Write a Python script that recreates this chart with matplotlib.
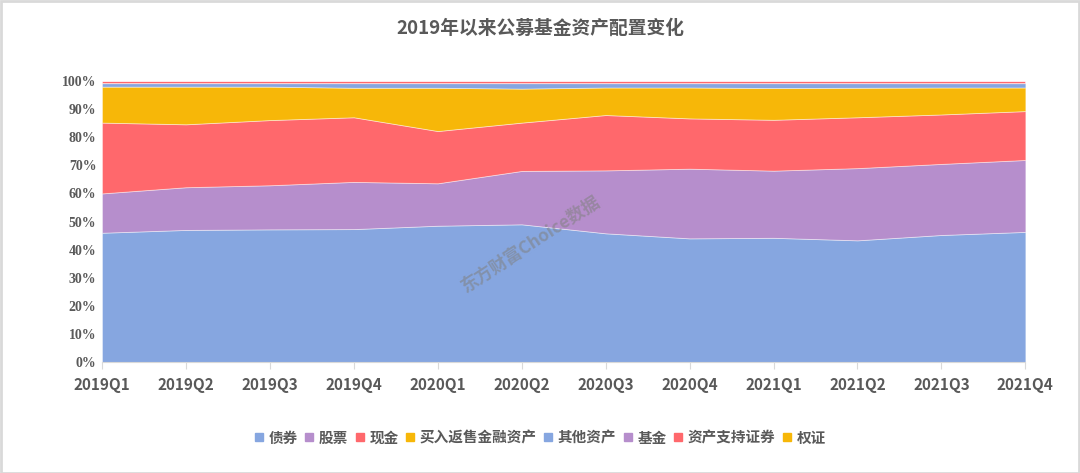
import numpy as np
import matplotlib.pyplot as plt
from matplotlib.lines import Line2D

plt.rcParams['font.family'] = ['Noto Sans CJK SC', 'DejaVu Sans']

quarters = ['2019Q1', '2019Q2', '2019Q3', '2019Q4', '2020Q1', '2020Q2',
            '2020Q3', '2020Q4', '2021Q1', '2021Q2', '2021Q3', '2021Q4']

# percentages
bond = [46.0, 47.0, 47.2, 47.3, 48.5, 49.0, 45.8, 44.0, 44.2, 43.3, 45.2, 46.3]
stock = [14.0, 15.2, 15.7, 16.8, 15.1, 19.0, 22.4, 24.8, 23.9, 25.7, 25.3, 25.6]
cash = [25.2, 22.4, 23.2, 23.0, 18.6, 17.2, 19.7, 17.9, 18.1, 18.1, 17.6, 17.4]
repo = [12.8, 13.4, 11.9, 10.5, 15.4, 12.1, 9.8, 11.0, 11.3, 10.5, 9.6, 8.4]
other = [1.2, 1.2, 1.2, 1.6, 1.6, 1.9, 1.5, 1.5, 1.7, 1.6, 1.5, 1.5]
fund = [0.2, 0.2, 0.2, 0.2, 0.2, 0.2, 0.2, 0.2, 0.2, 0.2, 0.2, 0.2]
abs_sec = [0.6, 0.6, 0.6, 0.6, 0.6, 0.6, 0.6, 0.6, 0.6, 0.6, 0.6, 0.6]
warrant = [0.0, 0.0, 0.0, 0.0, 0.0, 0.0, 0.0, 0.0, 0.0, 0.0, 0.0, 0.0]

names = ['债券', '股票', '现金', '买入返售金融资产', '其他资产', '基金', '资产支持证券', '权证']
blue, purple, red, yellow = '#86A6E0', '#B68ECC', '#FF686C', '#F7B708'
colors = [blue, purple, red, yellow, blue, purple, red, yellow]

series = np.array([bond, stock, cash, repo, other, fund, abs_sec, warrant])
series = series / series.sum(axis=0) * 100
x = np.arange(len(quarters))

fig = plt.figure(figsize=(10.8, 4.73), dpi=100)
ax = fig.add_axes([0.0944, 0.2347, 0.855, 0.594])
ax.stackplot(x, series, colors=colors, linewidth=0.6, edgecolor='#ffffff80')

ax.set_xlim(0, len(quarters) - 1)
ax.set_ylim(0, 100)
ax.set_xticks(x)
ax.set_xticklabels(quarters, fontsize=11, fontweight='bold', color='#595959')
ax.set_yticks(np.arange(0, 101, 10))
ax.set_yticklabels([f'{v}%' for v in range(0, 101, 10)], fontsize=10,
                   fontweight='bold', color='#595959', family='Liberation Serif')
ax.tick_params(axis='x', length=5, color='#D9D9D9', pad=6)
ax.tick_params(axis='y', length=0, pad=4)
for s in ['top', 'right', 'left']:
    ax.spines[s].set_visible(False)
ax.spines['bottom'].set_color('#D9D9D9')

# watermark
ax.text(0.465, 0.42, '东方财富Choice数据', transform=ax.transAxes, rotation=33,
        fontsize=12.5, color='#808080', alpha=0.55, ha='center', va='center',
        family=['Noto Sans CJK SC'], style='italic', fontweight='bold')

fig.text(0.5, 0.94, '2019年以来公募基金资产配置变化', ha='center', va='center',
         fontsize=13.5, fontweight='bold', color='#595959')

handles = [Line2D([], [], marker='s', linestyle='', markersize=6,
                  markerfacecolor=c, markeredgecolor=c) for c in colors]
fig.legend(handles, names, loc='center', bbox_to_anchor=(0.5, 0.075), ncol=8,
           frameon=False, handlelength=0.7, handletextpad=0.3, columnspacing=0.45,
           prop={'size': 10.5, 'weight': 'bold'}, labelcolor='#595959')

fig.patches.append(plt.Rectangle((0.001, 0.001), 0.998, 0.997, transform=fig.transFigure,
                                 fill=False, edgecolor='#D9D9D9', linewidth=2))

fig.savefig('out.png', dpi=100)
